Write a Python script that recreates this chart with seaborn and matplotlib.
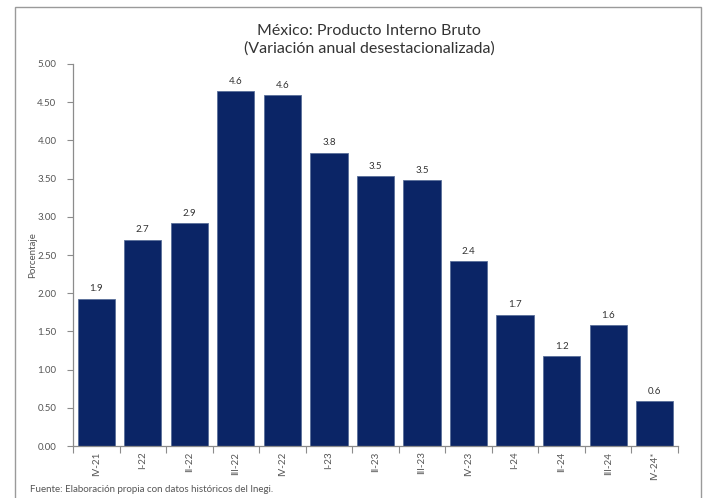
import matplotlib
matplotlib.use("Agg")
import matplotlib.pyplot as plt
from matplotlib.patches import Rectangle
from matplotlib.ticker import FixedLocator, FormatStrFormatter
import seaborn as sns
import pandas as pd

# Quarterly series (annual % change, seasonally adjusted)
trimestres = ["IV-21", "I-22", "II-22", "III-22", "IV-22", "I-23", "II-23",
              "III-23", "IV-23", "I-24", "II-24", "III-24", "IV-24*"]
variacion = [1.93, 2.70, 2.92, 4.64, 4.59, 3.84, 3.53, 3.48, 2.42, 1.72, 1.18, 1.58, 0.59]

titulo = "México: Producto Interno Bruto\n(Variación anual desestacionalizada)"
fuente = "Fuente: Elaboración propia con datos históricos del Inegi."

df = pd.DataFrame({"trimestre": trimestres, "variacion": variacion})

sns.set_theme(style="white")
plt.rcParams["font.family"] = ["Lato", "DejaVu Sans"]

fig = plt.figure(figsize=(7.06, 4.98), dpi=100)
ax = fig.add_axes([0.1034, 0.1044, 0.8569, 0.7671])

navy = "#0b2566"
sns.barplot(data=df, x="trimestre", y="variacion", color=navy, width=0.8,
            saturation=1, edgecolor="#5a6f9a", linewidth=0.6, ax=ax)

ax.set_ylim(0, 5)
ax.set_xlim(-0.5, len(trimestres) - 0.5)
ax.yaxis.set_major_locator(FixedLocator([i * 0.5 for i in range(11)]))
ax.yaxis.set_major_formatter(FormatStrFormatter("%.2f"))

grey = "#8c8c8c"
txt = "#555555"
for side in ("top", "right"):
    ax.spines[side].set_visible(False)
for side in ("left", "bottom"):
    ax.spines[side].set_color(grey)
    ax.spines[side].set_linewidth(0.9)

ax.tick_params(axis="y", which="major", left=True, length=4, width=0.8,
               color=grey, labelsize=7, labelcolor=txt, pad=8)
ax.tick_params(axis="x", which="major", bottom=False, length=0, labelsize=7,
               labelcolor=txt, labelrotation=90, pad=4)
ax.set_xticks([i + 0.5 for i in range(-1, len(trimestres))], minor=True)
ax.tick_params(axis="x", which="minor", bottom=True, length=5, width=0.8, color=grey)

ax.set_xlabel("")
ax.set_ylabel("Porcentaje", fontsize=7, color=txt, labelpad=0)

for i, v in enumerate(variacion):
    ax.text(i, v + 0.07, f"{v:.1f}", ha="center", va="bottom",
            fontsize=7, color="#333333")

fig.text(0.523, 0.888, titulo, ha="center", va="bottom", fontsize=11.5,
         color="#333333", linespacing=1.3)
fig.text(0.043, 0.008, fuente, ha="left", va="bottom", fontsize=7, color=txt)

# Frame around the whole chart
fig.patches.append(Rectangle((0.021, -0.01), 0.972, 0.995, transform=fig.transFigure,
                             fill=False, edgecolor="#9a9a9a", linewidth=1.0))

fig.savefig("out.png", dpi=100)
